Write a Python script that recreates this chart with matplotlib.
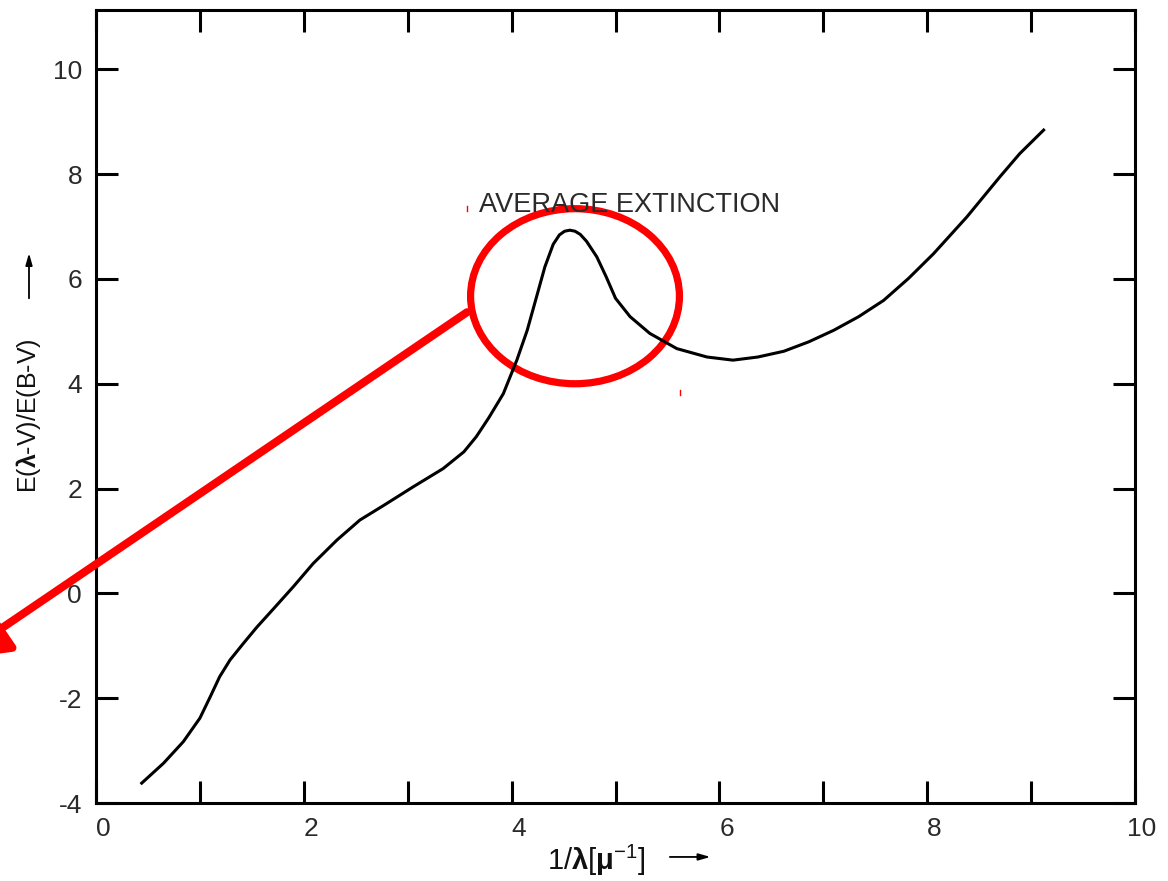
import matplotlib
matplotlib.use("Agg")
import matplotlib.pyplot as plt
from matplotlib.patches import Ellipse
from matplotlib.transforms import ScaledTranslation

plt.rcParams['font.family'] = ['Liberation Sans', 'DejaVu Sans']
plt.rcParams['axes.unicode_minus'] = False
plt.rcParams['mathtext.fontset'] = 'custom'
plt.rcParams['mathtext.rm'] = 'Liberation Sans'
plt.rcParams['mathtext.it'] = 'Liberation Sans:italic'
plt.rcParams['mathtext.bf'] = 'Liberation Sans:bold'

# average extinction curve
inv_wl = [0.44, 0.65, 0.84, 1.00, 1.10, 1.19, 1.29, 1.42, 1.55, 1.71, 1.90,
          2.09, 2.32, 2.54, 2.77, 3.05, 3.34, 3.54, 3.66, 3.78, 3.92, 4.05,
          4.15, 4.24, 4.32, 4.40, 4.46, 4.51, 4.56, 4.61, 4.66, 4.72, 4.82,
          4.91, 5.00, 5.14, 5.33, 5.59, 5.88, 6.13, 6.37, 6.62, 6.86, 7.10,
          7.34, 7.58, 7.82, 8.06, 8.38, 8.70, 8.89, 9.12]
ext = [-3.62, -3.24, -2.83, -2.38, -1.97, -1.59, -1.27, -0.95, -0.64, -0.29, 0.13,
       0.57, 1.02, 1.40, 1.68, 2.03, 2.38, 2.70, 2.99, 3.35, 3.81, 4.45,
       5.02, 5.66, 6.23, 6.66, 6.84, 6.91, 6.93, 6.91, 6.85, 6.72, 6.42,
       6.04, 5.63, 5.28, 4.96, 4.67, 4.51, 4.45, 4.51, 4.62, 4.80, 5.02,
       5.28, 5.59, 6.01, 6.48, 7.18, 7.95, 8.39, 8.84]

curve_label = "AVERAGE EXTINCTION"
xticks = [0, 2, 4, 6, 8, 10]
xminor = [1, 3, 5, 7, 9]
yticks = [-4, -2, 0, 2, 4, 6, 8, 10]

fig = plt.figure(figsize=(11.68, 8.81), dpi=100)
ax = fig.add_axes([0.0822, 0.0885, 0.8896, 0.9001])

ax.plot(inv_wl, ext, color='black', lw=2.2, solid_joinstyle='round')
ax.set_xlim(0, 10)
ax.set_ylim(-4, 11.13)

ax.set_xticks(xticks)
ax.set_xticks(xminor, minor=True)
ax.set_yticks(yticks)
ax.tick_params(which='both', direction='in', length=16, width=2.2,
               top=True, right=True, labelsize=19, labelcolor='#2a2a2a', pad=10)
for s in ax.spines.values():
    s.set_linewidth(2.2)
off = ScaledTranslation(7 / 100, 0, fig.dpi_scale_trans)
for lab in ax.get_xticklabels():
    lab.set_transform(lab.get_transform() + off)

ax.text(3.686, 7.27, curve_label, fontsize=19.5, color='#2a2a2a', va='baseline')

# axis labels with the little arrows
ax.text(0.434, -0.072, r"1/$\mathbf{\lambda}$[$\mathbf{\mu}^{\mathrm{-1}}$]",
        transform=ax.transAxes, fontsize=21, ha='left', va='center', color='#111111')
ax.annotate('', xy=(0.594, -0.068), xytext=(0.5496, -0.068), xycoords='axes fraction',
            arrowprops=dict(arrowstyle='-|>,head_length=0.7,head_width=0.2',
                            lw=1.3, color='black'), annotation_clip=False)
ax.text(-0.0654, 0.391, r"E($\mathbf{\lambda}$-V)/E(B-V)", rotation=90,
        transform=ax.transAxes, fontsize=18, ha='center', va='bottom', color='#111111')
ax.annotate('', xy=(-0.0645, 0.697), xytext=(-0.0645, 0.633), xycoords='axes fraction',
            arrowprops=dict(arrowstyle='-|>,head_length=0.7,head_width=0.2',
                            lw=1.3, color='black'), annotation_clip=False)

# red highlight around the bump
ax.add_patch(Ellipse((4.61, 5.67), 2.01, 3.34, fill=False, edgecolor='red', lw=5.2))
ax.annotate('', xy=(-1.35, -1.26), xytext=(3.571, 5.365), xycoords='data',
            arrowprops=dict(arrowstyle='-|>,head_length=1.6,head_width=0.8',
                            lw=5.8, color='red', mutation_scale=20, shrinkA=0, shrinkB=0),
            annotation_clip=False)
ax.plot([3.57, 3.57], [7.40, 7.30], color='red', lw=1)
ax.plot([5.62, 5.62], [3.88, 3.78], color='red', lw=1)

fig.savefig("out.png", dpi=100)
